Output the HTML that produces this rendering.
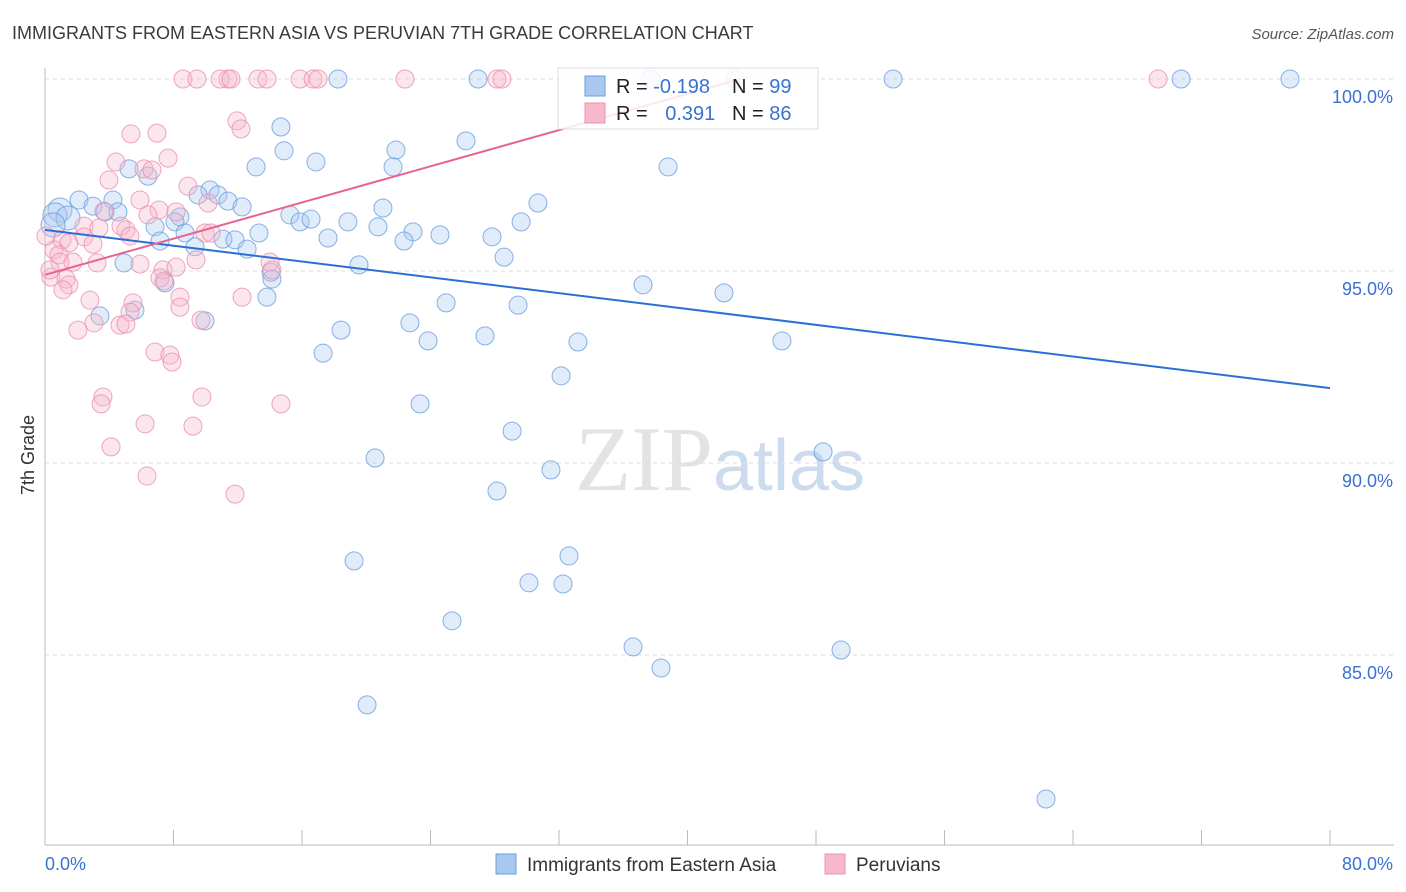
<!DOCTYPE html>
<html><head><meta charset="utf-8"><style>
body{margin:0;background:#fff;font-family:"Liberation Sans",sans-serif;}
svg{display:block}
</style></head><body>
<svg id="chart" width="1406" height="892" xmlns="http://www.w3.org/2000/svg">
<text x="12" y="39" font-size="18" fill="#3a3a3a">IMMIGRANTS FROM EASTERN ASIA VS PERUVIAN 7TH GRADE CORRELATION CHART</text>
<text x="1394" y="39" font-size="15" fill="#555" font-style="italic" text-anchor="end">Source: ZipAtlas.com</text>
<text x="720" y="490" font-size="92" text-anchor="middle" font-family="Liberation Serif" fill="#d8d8d8" opacity="0.7">ZIP<tspan font-family="Liberation Sans" fill="#b8cce8" font-size="72">atlas</tspan></text>
<text transform="translate(34,455) rotate(-90)" font-size="18" fill="#333" text-anchor="middle">7th Grade</text>
<g id="grid"></g><g id="pts"></g><g id="lines"></g>
<g>
<rect x="558" y="68" width="260" height="61" fill="#fff" fill-opacity="0.85" stroke="#ddd"/>
<rect x="585" y="76" width="20" height="20" fill="#a8c8f0" stroke="#6a9ee0"/>
<rect x="585" y="103" width="20" height="20" fill="#f7b8cb" stroke="#ec8fac"/>
<text x="616" y="93" font-size="20" fill="#222">R = <tspan fill="#3a72d0">-0.198</tspan></text>
<text x="732" y="93" font-size="20" fill="#222">N = <tspan fill="#3a72d0">99</tspan></text>
<text x="616" y="120" font-size="20" fill="#222">R = <tspan fill="#3a72d0" dx="12">0.391</tspan></text>
<text x="732" y="120" font-size="20" fill="#222">N = <tspan fill="#3a72d0">86</tspan></text>
</g>
<g>
<rect x="496" y="854" width="20" height="20" fill="#a8c8f0" stroke="#6a9ee0"/>
<text x="527" y="871" font-size="19" fill="#333">Immigrants from Eastern Asia</text>
<rect x="825" y="854" width="20" height="20" fill="#f7b8cb" stroke="#ec8fac"/>
<text x="856" y="871" font-size="19" fill="#333">Peruvians</text>
</g>
</svg>
<script>
const blueX=[34.24,26.96,18.24,52.8,70.73,77.51,37.73,42.96,14.69,26.21,21.85,14.88,16.87,21.67,13.14,5.23,38.79,6.41,2.12,2.99,4.23,3.74,4.54,0.93,0.62,1.43,0.5,10.27,10.77,9.53,11.39,12.27,15.25,15.88,16.56,18.86,21.04,20.73,30.69,29.64,8.4,8.09,6.85,8.72,7.16,9.34,11.08,11.83,12.58,13.32,17.62,22.91,22.35,24.59,27.83,28.58,4.92,14.07,19.55,14.13,7.47,13.82,5.6,3.42,37.23,42.27,24.97,29.45,9.96,22.72,18.43,27.39,23.85,33.18,45.88,17.31,32.13,23.35,29.08,20.55,48.44,31.5,28.14,32.62,19.24,30.13,32.25,25.34,36.61,38.35,49.56,20.05,62.32];
const blueY=[99.84,100,100,100,100,100,100,100,98.75,98.39,98.15,98.13,97.84,97.71,97.71,97.66,97.71,97.47,96.85,96.69,96.85,96.54,96.54,96.59,96.46,96.38,96.2,97.11,96.98,96.98,96.82,96.67,96.46,96.28,96.35,96.28,96.64,96.15,96.77,96.28,96.41,96.28,96.15,95.99,95.78,95.63,95.83,95.81,95.57,95.99,95.86,96.02,95.78,95.94,95.89,95.36,95.21,94.97,95.16,94.79,94.69,94.32,93.98,93.83,94.64,94.43,94.17,94.11,93.7,93.65,93.46,93.31,93.18,93.15,93.18,92.86,92.27,91.54,90.83,90.13,90.29,89.82,89.27,87.58,87.45,86.88,86.85,85.89,85.21,84.66,85.13,83.7,81.25];
const pinkX=[8.59,9.46,11.39,10.9,11.58,13.26,13.82,15.88,16.69,17.0,22.41,28.14,28.45,69.3,11.95,12.2,5.35,6.97,4.42,6.16,6.66,7.66,3.98,8.9,10.15,5.91,3.67,7.1,8.16,6.41,5.04,4.73,2.43,3.36,9.96,10.34,5.29,1.06,2.43,1.49,2.99,0.56,0.87,1.74,3.24,5.91,7.35,8.16,9.4,14.01,14.13,0.37,1.31,1.49,7.16,7.41,1.12,8.4,2.8,5.48,8.4,12.27,5.29,9.71,4.67,5.04,2.05,3.05,6.85,7.78,7.91,3.61,3.49,9.77,14.69,6.23,9.21,4.11,6.35,11.83,0.06,0.93,0.31];
const pinkY=[100,100,100,100,100,100,100,100,100,100,100,100,100,100,98.91,98.7,98.57,98.59,97.84,97.66,97.63,97.94,97.37,97.21,96.77,96.85,96.56,96.59,96.54,96.46,96.07,96.17,96.17,96.12,95.99,95.99,95.91,95.81,95.89,95.73,95.7,95.55,95.42,95.23,95.21,95.18,95.03,95.1,95.29,95.23,95.03,94.84,94.79,94.64,94.82,94.74,94.51,94.32,94.24,94.17,94.06,94.32,93.93,93.72,93.59,93.62,93.46,93.65,92.89,92.81,92.63,91.72,91.54,91.72,91.54,91.02,90.96,90.42,89.66,89.19,95.91,95.23,95.03];
const blueTrend=[96.07,91.95];
const pinkTrend=[94.9,100];
const pinkTrendEndX=43.3;
const yTicks=[100,95,90,85];
const yTickLabels=["100.0%","95.0%","90.0%","85.0%"];
const NS="http://www.w3.org/2000/svg";
const sx=v=>45+v/80*1285, sy=v=>79+(100-v)*38.4;
function mk(tag,attrs,parent){const e=document.createElementNS(NS,tag);for(const k in attrs)e.setAttribute(k,attrs[k]);parent.appendChild(e);return e;}
const grid=document.getElementById('grid'),pts=document.getElementById('pts'),lines=document.getElementById('lines');
yTicks.forEach((t,i)=>{
 const l=mk('line',{x1:45,x2:1394,y1:sy(t),y2:sy(t),stroke:'#ddd','stroke-dasharray':'4,4'},grid);
 
 
 const tx=mk('text',{x:1393,y:sy(t)+24,'font-size':18,fill:'#3a72d0','text-anchor':'end'},grid);
 tx.textContent=yTickLabels[i];
 
 
});
const ax=mk('line',{x1:45,x2:45,y1:68,y2:845,stroke:'#bbb'},grid);


const bx=mk('line',{x1:45,x2:1394,y1:845,y2:845,stroke:'#bbb'},grid);


for(let i=0;i<=10;i++){const t=mk('line',{x1:sx(i*8),x2:sx(i*8),y1:830,y2:845,stroke:'#bbb'},grid);
 
 }
const xl=mk('text',{x:45,y:870,'font-size':18,fill:'#3a72d0'},grid);xl.textContent='0.0%';


const xr=mk('text',{x:1393,y:870,'font-size':18,fill:'#3a72d0','text-anchor':'end'},grid);xr.textContent='80.0%';


function draw(X,Y,fill,stroke,name){X.forEach((x,i)=>{
 const big=(x<1.5&&Y[i]>96)?12:9;
 const c=mk('circle',{cx:sx(x),cy:sy(Y[i]),r:big,fill:fill,'fill-opacity':0.35,stroke:stroke,'stroke-opacity':0.8,'stroke-width':1},pts);
 
 
});}
draw(blueX,blueY,'#a8c8f0','#6a9ee0','eastern-asia-point');
draw(pinkX,pinkY,'#f7b8cb','#ec8fac','peruvian-point');
const bl=mk('line',{x1:sx(0),y1:sy(blueTrend[0]),x2:sx(80),y2:sy(blueTrend[1]),stroke:'#2a6fd6','stroke-width':2},lines);


const pl=mk('line',{x1:sx(0),y1:sy(pinkTrend[0]),x2:sx(pinkTrendEndX),y2:sy(pinkTrend[1]),stroke:'#e8638e','stroke-width':2},lines);


</script>
</body></html>
